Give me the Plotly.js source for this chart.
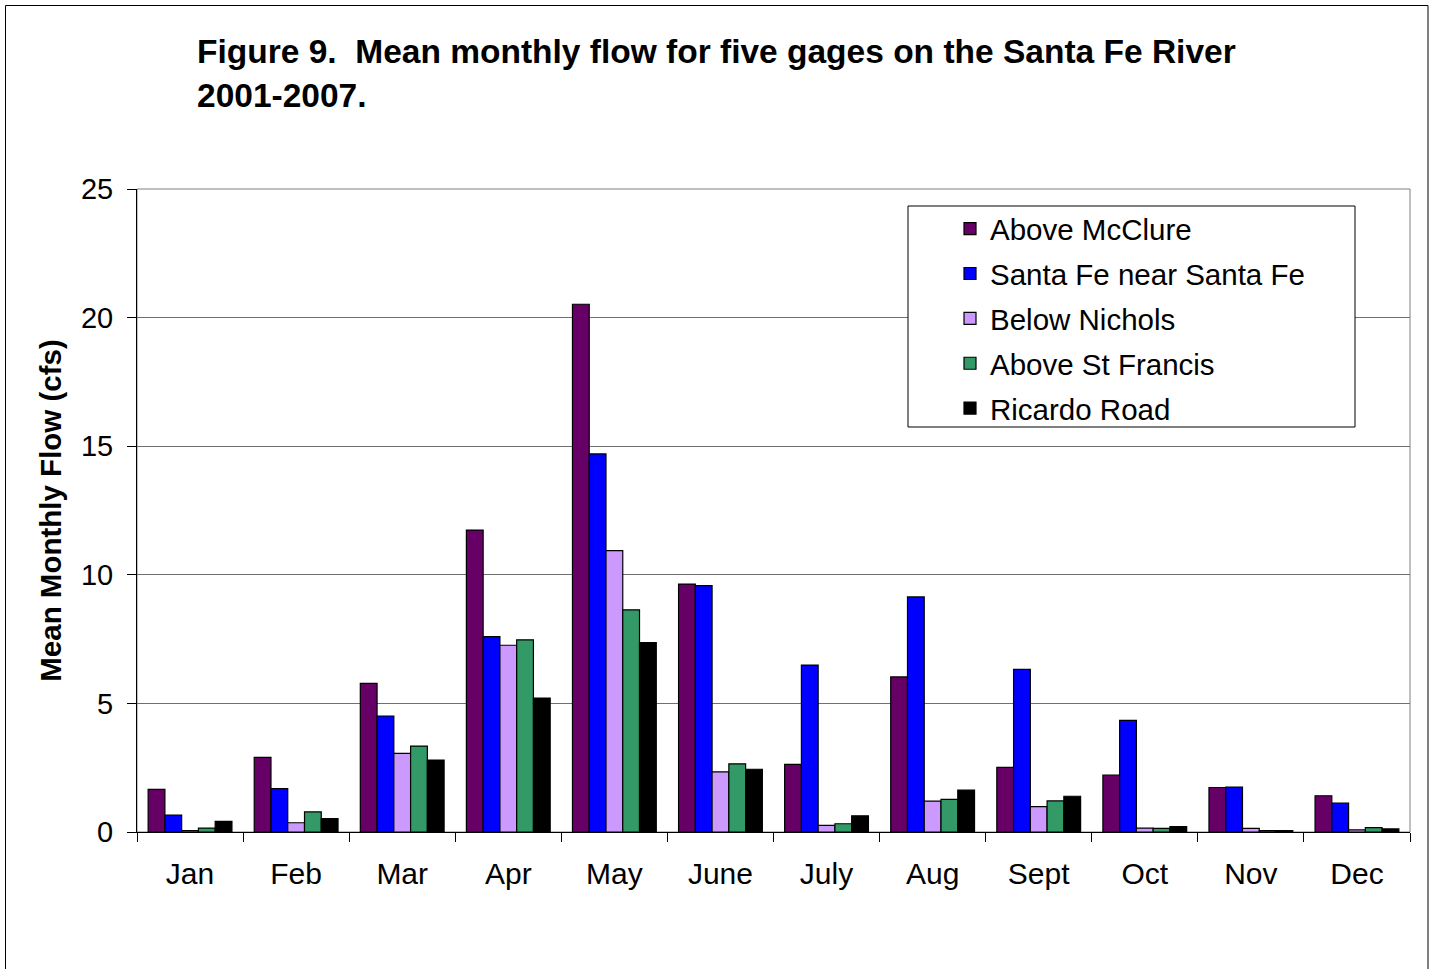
<!DOCTYPE html>
<html>
<head>
<meta charset="utf-8">
<script src="https://cdn.plot.ly/plotly-3.0.1.min.js"></script>
<style>
  html, body { margin: 0; padding: 0; background: #fff; }
  #chart { width: 1430px; height: 969px; }
</style>
</head>
<body>
<div id="chart"></div>
<script>
const months = ['Jan', 'Feb', 'Mar', 'Apr', 'May', 'June', 'July', 'Aug', 'Sept', 'Oct', 'Nov', 'Dec']

const aboveMcClure = [1.66, 2.90, 5.78, 11.74, 20.52, 9.64, 2.63, 6.03, 2.51, 2.21, 1.73, 1.41]
const santaFeNearSantaFe = [0.66, 1.69, 4.51, 7.60, 14.70, 9.58, 6.49, 9.14, 6.32, 4.34, 1.75, 1.12]
const belowNichols = [0.05, 0.36, 3.06, 7.26, 10.94, 2.34, 0.26, 1.20, 0.99, 0.15, 0.14, 0.08]
const aboveStFrancis = [0.15, 0.78, 3.34, 7.47, 8.64, 2.65, 0.32, 1.27, 1.21, 0.14, 0.05, 0.17]
const ricardoRoad = [0.41, 0.52, 2.80, 5.21, 7.36, 2.44, 0.63, 1.63, 1.39, 0.21, 0.05, 0.12]

const seriesNames = ['Above McClure', 'Santa Fe near Santa Fe', 'Below Nichols', 'Above St Francis', 'Ricardo Road']
const seriesValues = [aboveMcClure, santaFeNearSantaFe, belowNichols, aboveStFrancis, ricardoRoad]
const seriesColors = ['#660066', '#0000ff', '#cc99ff', '#339966', '#000000']

const FONT = 'Liberation Sans, Arial, sans-serif'

const traces = seriesNames.map((name, i) => ({
  type: 'bar',
  x: months,
  y: seriesValues[i],
  name: name,
  legendgroup: 'g' + i,
  marker: { color: seriesColors[i], line: { color: '#000', width: 1.2 } },
  hoverinfo: 'x+y+name'
}))

// plot area in pixels: x 137..1410, y 189..832
const px = (v) => (v - 137) / 1273
const py = (v) => (832 - v) / 643

const layout = {
  width: 1430,
  height: 969,
  margin: { l: 137, r: 20, t: 189, b: 137 },
  paper_bgcolor: '#fff',
  plot_bgcolor: '#fff',
  font: { family: FONT, color: '#000', size: 29 },
  title: {
    text: '<b>Figure 9.&nbsp; Mean monthly flow for five gages on the Santa Fe River<br>2001-2007.</b>',
    font: { family: FONT, size: 33.5, color: '#000' },
    x: 197 / 1430,
    xanchor: 'left',
    xref: 'container',
    y: 1 - 63 / 969,
    yanchor: 'top',
    yref: 'container'
  },
  barmode: 'group',
  bargap: 0.21,
  bargroupgap: 0,
  showlegend: true,
  legend: {
    x: px(950),
    xanchor: 'left',
    y: py(203),
    yanchor: 'top',
    bgcolor: 'rgba(0,0,0,0)',
    borderwidth: 0,
    tracegroupgap: 3.5,
    font: { family: FONT, size: 29.5, color: '#000' }
  },
  xaxis: {
    type: 'category',
    showline: true,
    linecolor: '#000',
    linewidth: 1,
    ticks: 'outside',
    tickson: 'boundaries',
    ticklen: 9,
    tickcolor: '#000',
    tickwidth: 1,
    ticklabelstandoff: 15,
    tickfont: { family: FONT, size: 30, color: '#000' },
    showgrid: false,
    zeroline: false,
    automargin: false
  },
  yaxis: {
    range: [0, 25],
    dtick: 5,
    showline: true,
    linecolor: '#000',
    linewidth: 1,
    ticks: 'outside',
    ticklen: 9,
    tickcolor: '#000',
    tickwidth: 1,
    ticklabelstandoff: 8,
    tickfont: { family: FONT, size: 29, color: '#000' },
    showgrid: true,
    gridcolor: '#707070',
    gridwidth: 1,
    zeroline: false,
    automargin: false,
    title: {
      text: '<b>Mean Monthly Flow (cfs)</b>',
      font: { family: FONT, size: 29.5, color: '#000' },
      standoff: 10
    }
  },
  shapes: [
    // grey plot frame
    { type: 'rect', xref: 'paper', yref: 'paper', x0: 0, x1: 1, y0: 0, y1: 1,
      line: { color: '#808080', width: 1 }, layer: 'below' },
    // legend box
    { type: 'rect', xref: 'paper', yref: 'paper', x0: px(908), x1: px(1355), y0: py(427), y1: py(206),
      line: { color: '#000', width: 1 }, fillcolor: '#fff', layer: 'above' },
    // outer chart border
    { type: 'rect', xref: 'paper', yref: 'paper', x0: px(5.5), x1: px(1428), y0: py(1000), y1: py(5.5),
      line: { color: '#000', width: 1 } }
  ]
}

try {
  Plotly.newPlot('chart', traces, layout, { displayModeBar: false, staticPlot: true })
} catch (e) {
  console.log('ERR', e)
}
</script>
</body>
</html>
